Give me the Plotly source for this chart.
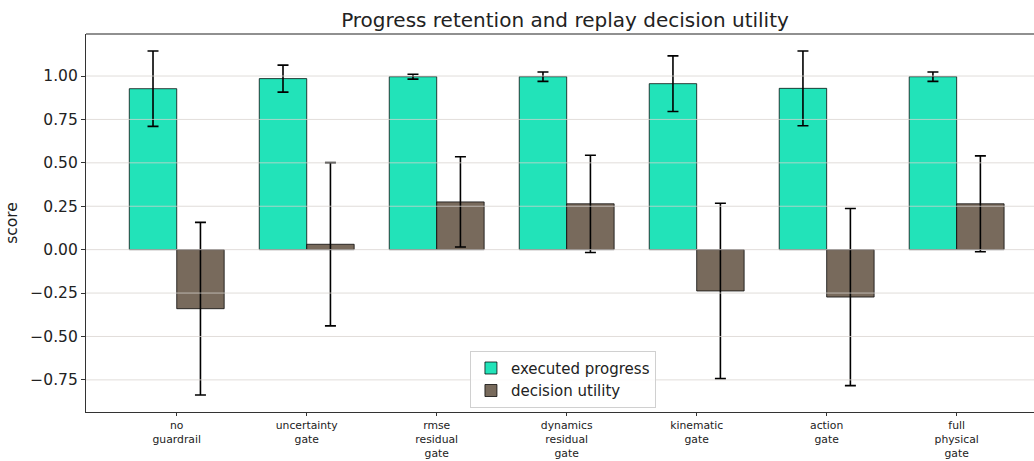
import plotly.graph_objects as go

# Guardrail variants compared in the replay study
categories = [
    "no<br>guardrail",
    "uncertainty<br>gate",
    "rmse<br>residual<br>gate",
    "dynamics<br>residual<br>gate",
    "kinematic<br>gate",
    "action<br>gate",
    "full<br>physical<br>gate",
]

# Mean scores and their spread per variant
executed_progress = [0.927, 0.985, 0.996, 0.996, 0.956, 0.929, 0.996]
executed_progress_err = [0.217, 0.078, 0.014, 0.027, 0.160, 0.215, 0.027]
decision_utility = [-0.340, 0.031, 0.275, 0.264, -0.238, -0.273, 0.264]
decision_utility_err = [0.497, 0.470, 0.260, 0.280, 0.505, 0.510, 0.276]

y_ticks = [-0.75, -0.5, -0.25, 0.0, 0.25, 0.5, 0.75, 1.0]
y_tick_text = ["\u22120.75", "\u22120.50", "\u22120.25", "0.00", "0.25", "0.50", "0.75", "1.00"]

positions = list(range(len(categories)))
font_family = "DejaVu Sans"

err_style = dict(type="data", color="black", thickness=1.6, width=5.5, visible=True)
edge = dict(color="rgba(0,0,0,0.75)", width=1)

fig = go.Figure()
fig.add_trace(go.Bar(
    x=positions, y=executed_progress, name="executed progress",
    marker=dict(color="#22e3b9", line=edge),
    error_y=dict(array=executed_progress_err, **err_style),
))
fig.add_trace(go.Bar(
    x=positions, y=decision_utility, name="decision utility",
    marker=dict(color="#786a5c", line=edge),
    error_y=dict(array=decision_utility_err, **err_style),
))

# light grid lines drawn over the bars
for v in y_ticks:
    fig.add_shape(type="line", xref="paper", yref="y", x0=0, x1=1, y0=v, y1=v,
                  line=dict(color="rgba(215,210,205,0.75)", width=1), layer="above")

fig.update_layout(
    width=1034, height=461,
    margin=dict(l=86, r=0, t=34, b=49),
    paper_bgcolor="white", plot_bgcolor="white",
    barmode="group", bargap=0.27, bargroupgap=0,
    font=dict(family=font_family, color="#222222", size=15),
    title=dict(text="Progress retention and replay decision utility",
               x=565 / 1034, xanchor="center", y=0.957, yanchor="middle",
               font=dict(size=20, family=font_family, color="#222222")),
    legend=dict(x=0.405, xanchor="left", y=0.162, yanchor="top",
                bgcolor="rgba(255,255,255,0.85)", bordercolor="#d0d0d0", borderwidth=1,
                font=dict(size=15, family=font_family), tracegroupgap=0),
    showlegend=True,
)
fig.update_xaxes(
    range=[-0.698, 6.595], tickmode="array", tickvals=positions, ticktext=categories,
    showgrid=False, zeroline=False, showline=True, linecolor="#333333", linewidth=1.2,
    mirror=False, ticks="outside", ticklen=3, tickcolor="#333333", automargin=False,
    tickfont=dict(size=10.8, family=font_family, color="#222222"),
)
fig.update_yaxes(
    range=[-0.935, 1.242], tickmode="array", tickvals=y_ticks, ticktext=y_tick_text,
    showgrid=False, zeroline=False, showline=True, linecolor="#333333", linewidth=1.2,
    ticks="outside", ticklen=4, tickcolor="#333333", automargin=False,
    tickfont=dict(size=15.5, family=font_family, color="#222222"),
    title=dict(text="score", font=dict(size=15.5, family=font_family), standoff=8),
)
# top spine
fig.add_shape(type="line", xref="paper", yref="paper", x0=0, x1=1, y0=1, y1=1,
              line=dict(color="#222222", width=1.2), layer="above")

fig.write_html("out.html")
